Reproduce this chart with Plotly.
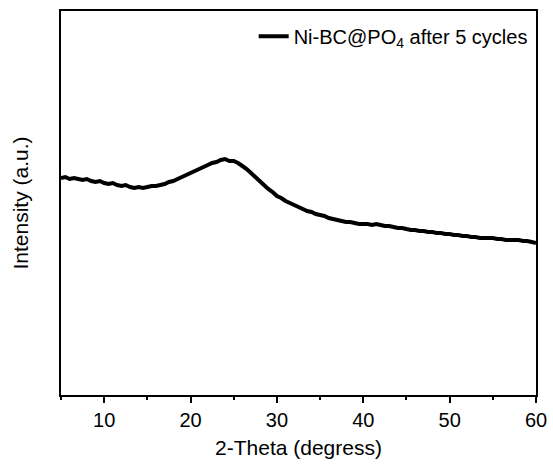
import plotly.graph_objects as go

two_theta = [round(5 + 0.5 * i, 1) for i in range(111)]
intensity = [
    217, 218, 216, 217, 216, 215, 216, 214, 213, 214,
    212, 211, 212, 210, 209, 210, 208, 207, 208, 207,
    208, 209, 209, 210, 211, 213, 214, 216, 218, 220,
    222, 224, 226, 228, 230, 232, 233, 235, 236, 234,
    234, 232, 229, 226, 222, 218, 214, 210, 206, 203,
    199, 197, 194, 192, 190, 188, 186, 184, 183, 181,
    180, 179, 177, 176, 175, 174, 173, 173, 172, 171,
    171, 171, 170, 171, 170, 169, 169, 168, 167, 167,
    166, 165, 165, 164, 164, 163, 163, 162, 162, 161,
    161, 160, 160, 159, 159, 158, 158, 157, 157, 157,
    157, 156, 156, 155, 155, 155, 155, 154, 154, 153,
    152,
]
series_name = "Ni-BC@PO<sub>4</sub> after 5 cycles"
x_ticks = [10, 20, 30, 40, 50, 60]

fig = go.Figure()
fig.add_trace(go.Scatter(
    x=two_theta, y=intensity, mode="lines", name=series_name,
    line=dict(color="black", width=4, simplify=False),
))

fig.update_layout(
    width=553, height=467,
    margin=dict(l=61, r=17, t=11, b=72, autoexpand=False),
    plot_bgcolor="white", paper_bgcolor="white",
    font=dict(family="Liberation Sans, Arial, sans-serif", color="black"),
    showlegend=True,
    legend=dict(x=0.993, xanchor="right", y=0.985, yanchor="top",
                bgcolor="rgba(0,0,0,0)", font=dict(size=20)),
    xaxis=dict(
        range=[5, 60], tickvals=x_ticks, ticks="outside", ticklen=6, tickwidth=2,
        tickcolor="black", showline=True, linecolor="black", linewidth=2,
        mirror=True, showgrid=False, zeroline=False, tickfont=dict(size=20),
        automargin=False,
        minor=dict(dtick=5, tick0=5, ticks="outside", ticklen=3, tickwidth=2, tickcolor="black"),
        title=dict(text="2-Theta (degress)", font=dict(size=21), standoff=10),
    ),
    yaxis=dict(
        range=[0, 384], showticklabels=False, ticks="", showline=True,
        linecolor="black", linewidth=2, mirror=True, showgrid=False, zeroline=False,
        automargin=False,
        title=dict(text="Intensity (a.u.)", font=dict(size=21), standoff=25),
    ),
)

fig.write_html("out.html", config={"displayModeBar": False},
               post_script="document.body.style.margin='0';")
